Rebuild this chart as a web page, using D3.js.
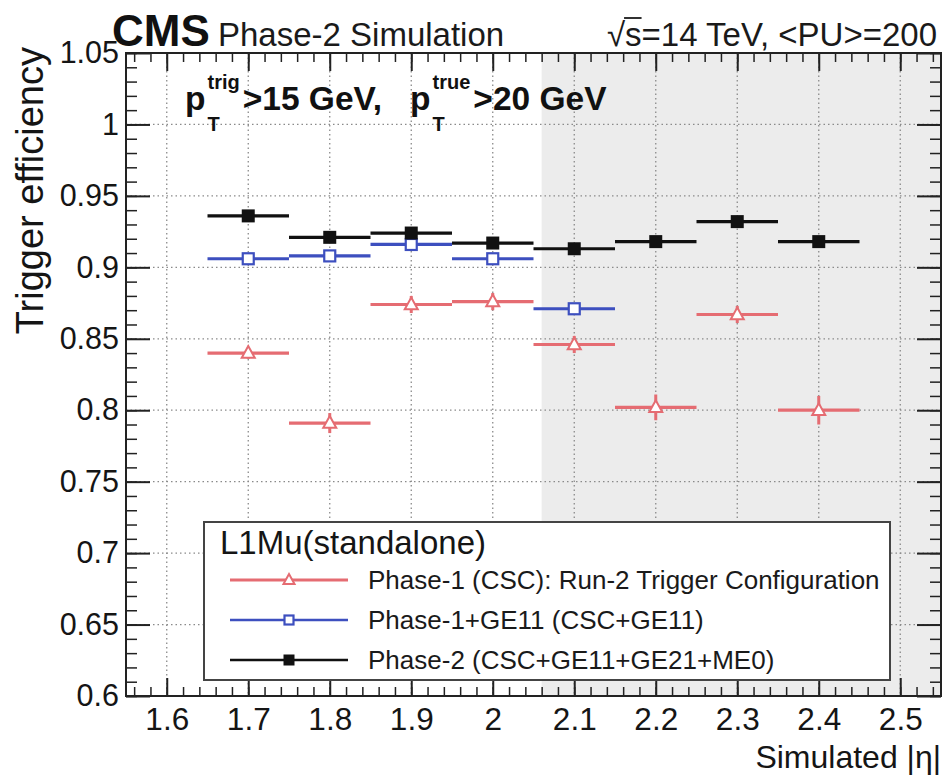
<!DOCTYPE html>
<html><head><meta charset="utf-8">
<script src="https://cdn.jsdelivr.net/npm/d3@7"></script>
<style>
html,body{margin:0;padding:0;background:#fff;}
svg{display:block;font-family:"Liberation Sans",Arial,Helvetica,sans-serif;}
</style></head><body>
<svg id="chart" width="945" height="777"></svg>
<script>
// ---------------- data ----------------
const etaBins = [1.7, 1.8, 1.9, 2.0, 2.1, 2.2, 2.3, 2.4];
const binHalfWidth = 0.05;
const phase1Eff = [0.840, 0.791, 0.874, 0.876, 0.846, 0.802, 0.867, 0.800];
const phase1Err = [0.004, 0.007, 0.006, 0.006, 0.006, 0.009, 0.006, 0.010];
const phase1GE11Eff = [0.906, 0.908, 0.916, 0.906, 0.871];
const phase1GE11Err = [0.003, 0.003, 0.003, 0.003, 0.004];
const phase2Eff = [0.936, 0.921, 0.924, 0.917, 0.913, 0.918, 0.932, 0.918];
const phase2Err = [0.003, 0.003, 0.003, 0.003, 0.003, 0.003, 0.003, 0.003];
const seriesLabels = [
  "Phase-1 (CSC): Run-2 Trigger Configuration",
  "Phase-1+GE11 (CSC+GE11)",
  "Phase-2 (CSC+GE11+GE21+ME0)"
];
const legendTitle = "L1Mu(standalone)";
const xTickValues = [1.6, 1.7, 1.8, 1.9, 2.0, 2.1, 2.2, 2.3, 2.4, 2.5];
const yTickValues = [0.6, 0.65, 0.7, 0.75, 0.8, 0.85, 0.9, 0.95, 1.0, 1.05];
const xDomain = [1.55, 2.55];
const yDomain = [0.6, 1.05];
const shadedFrom = 2.06;

// ---------------- layout ----------------
const svg = d3.select("#chart");
const M = {left: 126, right: 941, top: 53, bottom: 696};
const x = d3.scaleLinear().domain(xDomain).range([M.left, M.right]);
const y = d3.scaleLinear().domain(yDomain).range([M.bottom, M.top]);
const fmt = d => String(+d.toFixed(2));

const colors = {red: "#e56c72", blue: "#3d4fbf", black: "#111111"};

// shaded region
svg.append("rect")
  .attr("x", x(shadedFrom)).attr("y", M.top)
  .attr("width", x(xDomain[1]) - x(shadedFrom))
  .attr("height", M.bottom - M.top)
  .attr("fill", "#ececec");

// grid
const grid = svg.append("g").attr("stroke", "#8a8a8a").attr("stroke-width", 1.3)
  .attr("stroke-dasharray", "1.5,3");
grid.selectAll("line.v").data(xTickValues).join("line")
  .attr("x1", d => x(d)).attr("x2", d => x(d))
  .attr("y1", M.top).attr("y2", M.bottom);
grid.selectAll("line.h").data(yTickValues.filter(v => v > yDomain[0] + 1e-9 && v < yDomain[1] - 1e-9)).join("line")
  .attr("x1", M.left).attr("x2", M.right)
  .attr("y1", d => y(d)).attr("y2", d => y(d));

// axes: ticks pointing inward (ROOT style)
const xMinor = d3.range(1.56, 2.55, 0.02).map(v => +v.toFixed(2));
const yMinor = d3.range(0.6, 1.0501, 0.01).map(v => +v.toFixed(2));

function styleAxis(g, w) {
  g.select(".domain").remove();
  g.selectAll(".tick line").attr("stroke", "#222").attr("stroke-width", w);
  g.selectAll(".tick text").attr("fill", "#151515");
}
// bottom
svg.append("g").attr("transform", `translate(0,${M.bottom})`)
  .call(d3.axisBottom(x).tickValues(xMinor).tickSize(-9).tickFormat(""))
  .call(g => styleAxis(g, 1.5));
svg.append("g").attr("transform", `translate(0,${M.bottom})`)
  .call(d3.axisBottom(x).tickValues(xTickValues).tickSize(-18).tickPadding(12).tickFormat(fmt))
  .call(g => styleAxis(g, 2))
  .call(g => g.selectAll("text").attr("font-size", 31.5).attr("font-family", "Liberation Sans, Arial, sans-serif"));
// top
svg.append("g").attr("transform", `translate(0,${M.top})`)
  .call(d3.axisTop(x).tickValues(xMinor).tickSize(-9).tickFormat(""))
  .call(g => styleAxis(g, 1.5));
svg.append("g").attr("transform", `translate(0,${M.top})`)
  .call(d3.axisTop(x).tickValues(xTickValues).tickSize(-18).tickFormat(""))
  .call(g => styleAxis(g, 2));
// left
svg.append("g").attr("transform", `translate(${M.left},0)`)
  .call(d3.axisLeft(y).tickValues(yMinor).tickSize(-11).tickFormat(""))
  .call(g => styleAxis(g, 1.5));
svg.append("g").attr("transform", `translate(${M.left},0)`)
  .call(d3.axisLeft(y).tickValues(yTickValues).tickSize(-24).tickPadding(7).tickFormat(fmt))
  .call(g => styleAxis(g, 2))
  .call(g => g.selectAll("text").attr("font-size", 30.5).attr("font-family", "Liberation Sans, Arial, sans-serif"));
// right
svg.append("g").attr("transform", `translate(${M.right},0)`)
  .call(d3.axisRight(y).tickValues(yMinor).tickSize(-11).tickFormat(""))
  .call(g => styleAxis(g, 1.5));
svg.append("g").attr("transform", `translate(${M.right},0)`)
  .call(d3.axisRight(y).tickValues(yTickValues).tickSize(-24).tickFormat(""))
  .call(g => styleAxis(g, 2));

// ---------------- series ----------------
const series = [
  {name: seriesLabels[0], eff: phase1Eff, err: phase1Err, color: colors.red, marker: "triangle"},
  {name: seriesLabels[1], eff: phase1GE11Eff, err: phase1GE11Err, color: colors.blue, marker: "opensquare"},
  {name: seriesLabels[2], eff: phase2Eff, err: phase2Err, color: colors.black, marker: "square"}
];

function drawMarker(g, type, cx, cy, color, size) {
  if (type === "square") {
    g.append("rect").attr("x", cx - size/2).attr("y", cy - size/2)
      .attr("width", size).attr("height", size).attr("fill", color);
  } else if (type === "opensquare") {
    const s = size - 2;
    g.append("rect").attr("x", cx - s/2).attr("y", cy - s/2)
      .attr("width", s).attr("height", s).attr("fill", "#ffffff")
      .attr("stroke", color).attr("stroke-width", 2.2);
  } else {
    const h = size * 0.9, w = size;
    g.append("path")
      .attr("d", `M${cx},${cy - h*0.6}L${cx + w/2},${cy + h*0.4}L${cx - w/2},${cy + h*0.4}Z`)
      .attr("fill", "#ffffff").attr("stroke", color).attr("stroke-width", 2);
  }
}

series.forEach(s => {
  const g = svg.append("g");
  const pts = s.eff.map((v, i) => ({eta: etaBins[i], v, e: s.err[i]}));
  g.selectAll("line.h").data(pts).join("line")
    .attr("x1", d => x(d.eta - binHalfWidth)).attr("x2", d => x(d.eta + binHalfWidth))
    .attr("y1", d => y(d.v)).attr("y2", d => y(d.v))
    .attr("stroke", s.color).attr("stroke-width", 3.2);
  g.selectAll("line.v").data(pts).join("line")
    .attr("x1", d => x(d.eta)).attr("x2", d => x(d.eta))
    .attr("y1", d => y(d.v - d.e)).attr("y2", d => y(d.v + d.e))
    .attr("stroke", s.color).attr("stroke-width", 3);
  pts.forEach(d => drawMarker(g, s.marker, x(d.eta), y(d.v), s.color, 13));
});

// ---------------- legend ----------------
const L = {x: 204, y: 522, w: 686, h: 158};
const lg = svg.append("g");
lg.append("rect").attr("x", L.x).attr("y", L.y).attr("width", L.w).attr("height", L.h)
  .attr("fill", "#ffffff").attr("stroke", "#444").attr("stroke-width", 2);
lg.append("text").attr("x", L.x + 16).attr("y", L.y + 32)
  .attr("font-size", 33).attr("fill", "#151515").text(legendTitle);
series.forEach((s, i) => {
  const cy = L.y + 58 + i * 40;
  lg.append("line").attr("x1", L.x + 26).attr("x2", L.x + 144)
    .attr("y1", cy).attr("y2", cy).attr("stroke", s.color).attr("stroke-width", i === 0 ? 3 : 2.5);
  drawMarker(lg, s.marker, L.x + 85, cy, s.color, 11);
  lg.append("text").attr("x", L.x + 164).attr("y", cy + 9)
    .attr("font-size", 26).attr("fill", "#1a1a1a").text(s.name);
});

// ---------------- frame ----------------
svg.append("rect").attr("x", M.left).attr("y", M.top)
  .attr("width", M.right - M.left).attr("height", M.bottom - M.top)
  .attr("fill", "none").attr("stroke", "#222").attr("stroke-width", 2);

// ---------------- titles ----------------
svg.append("text").attr("x", M.right).attr("y", 768).attr("text-anchor", "end")
  .attr("font-size", 32).attr("fill", "#151515").text("Simulated |η|");
svg.append("text").attr("transform", `translate(43,${M.top - 6}) rotate(-90)`)
  .attr("text-anchor", "end").attr("font-size", 38).attr("fill", "#151515")
  .text("Trigger efficiency");

svg.append("text").attr("x", 112).attr("y", 46).attr("font-size", 44)
  .attr("font-weight", "bold").attr("fill", "#111").text("CMS");
svg.append("text").attr("x", 218).attr("y", 46).attr("font-size", 33)
  .attr("fill", "#1a1a1a").text("Phase-2 Simulation");

const energy = svg.append("text").attr("x", 937).attr("y", 46).attr("text-anchor", "end")
  .attr("font-size", 33).attr("fill", "#1a1a1a").text("√s=14 TeV, <PU>=200");
{
  const node = energy.node();
  const r = node.getExtentOfChar(0), s = node.getExtentOfChar(1);
  svg.append("line").attr("x1", r.x + r.width - 1).attr("x2", s.x + s.width)
    .attr("y1", r.y + 2).attr("y2", r.y + 2).attr("stroke", "#1a1a1a").attr("stroke-width", 1.8);
}

// pT cut annotation
function cutLabel(x0, sup, main) {
  let cx = x0;
  const p = svg.append("text").attr("x", cx).attr("y", 110).attr("font-size", 33.5)
    .attr("font-weight", "bold").attr("fill", "#111").text("p");
  cx += p.node().getComputedTextLength() + 2;
  const su = svg.append("text").attr("x", cx).attr("y", 89).attr("font-size", 20)
    .attr("font-weight", "bold").attr("fill", "#111").text(sup);
  const sb = svg.append("text").attr("x", cx).attr("y", 131).attr("font-size", 20)
    .attr("font-weight", "bold").attr("fill", "#111").text("T");
  cx += Math.max(su.node().getComputedTextLength(), sb.node().getComputedTextLength()) + 3;
  const m = svg.append("text").attr("x", cx).attr("y", 110).attr("font-size", 33.5)
    .attr("font-weight", "bold").attr("fill", "#111").text(main);
  return cx + m.node().getComputedTextLength();
}
const endFirst = cutLabel(185, "trig", ">15 GeV,");
cutLabel(endFirst + 28, "true", ">20 GeV");
</script>
</body></html>
